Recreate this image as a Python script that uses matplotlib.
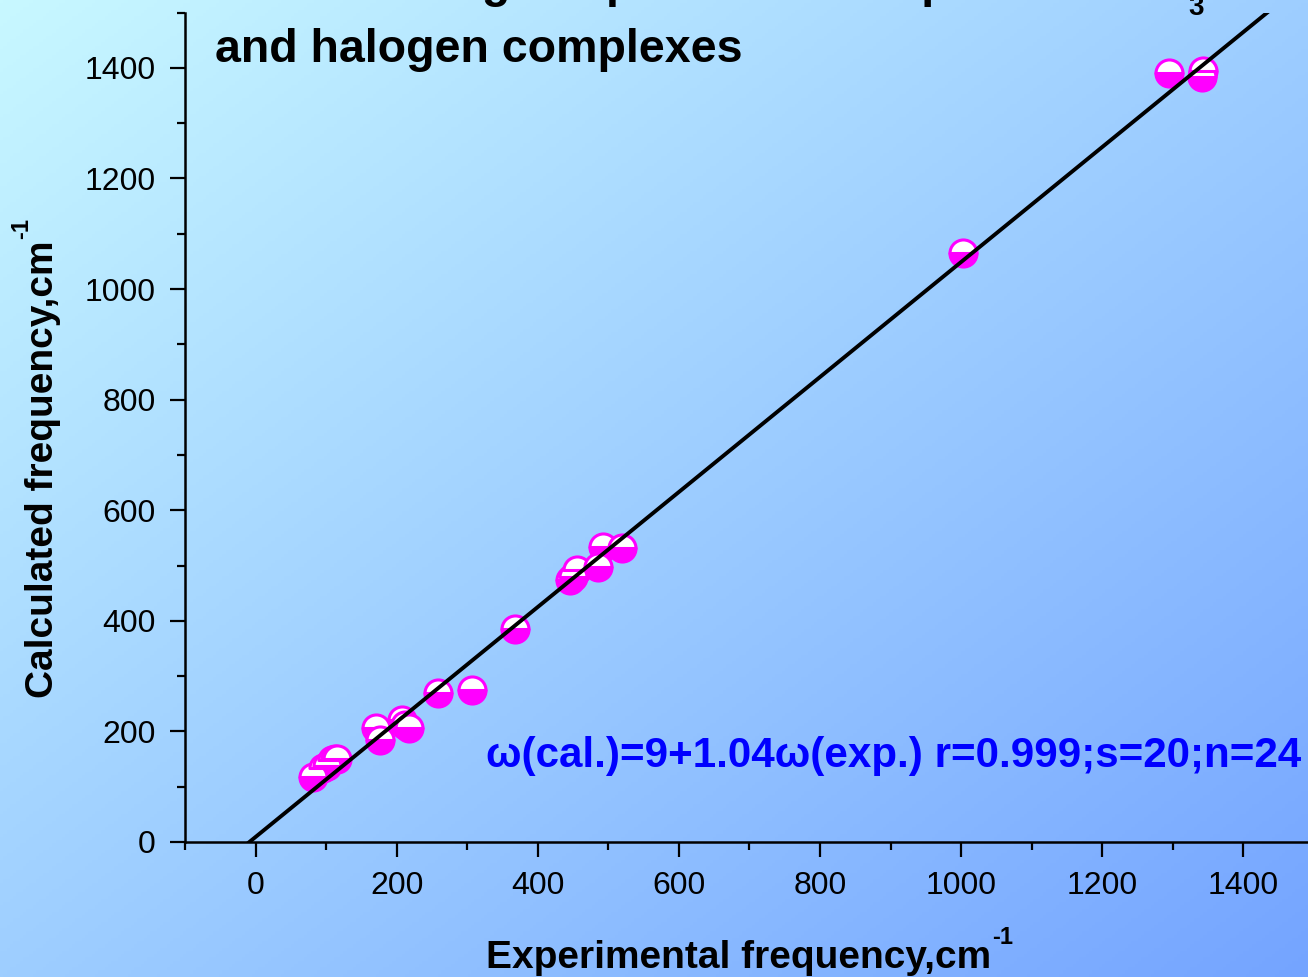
import numpy as np
import matplotlib.pyplot as plt

plt.rcParams['font.family'] = ['Liberation Sans', 'DejaVu Sans']

# experimental vs calculated vibrational frequencies, cm-1
x_exp = [82, 95, 101, 109, 113, 116,
         171, 177, 207, 212, 218,
         258, 307, 368,
         446, 450, 456, 486, 493, 520,
         1003,
         1295, 1341, 1343]
y_cal = [118, 134, 138, 148, 150, 150,
         207, 185, 220, 212, 206,
         269, 275, 385,
         474, 480, 492, 497, 534, 532,
         1065,
         1391, 1383, 1395]

# linear fit  w(cal.) = a + b*w(exp.)
fit_a = 9
fit_b = 1.04
fit_text = 'ω(cal.)=9+1.04ω(exp.) r=0.999;s=20;n=24'

xticks = [0, 200, 400, 600, 800, 1000, 1200, 1400]
yticks = [0, 200, 400, 600, 800, 1000, 1200, 1400]

fig = plt.figure(figsize=(13.08, 9.77), dpi=100)

# diagonal background gradient, light cyan -> blue
bg = fig.add_axes([0, 0, 1, 1])
gx, gy = np.meshgrid(np.linspace(0, 1, 400), np.linspace(0, 1, 300))
t = (gx + gy) / 2
c0 = np.array([0xC8, 0xF8, 0xFF]) / 255
c1 = np.array([0x74, 0xA4, 0xFF]) / 255
grad = c0 + t[..., None] * (c1 - c0)
bg.imshow(grad, aspect='auto', extent=[0, 1, 0, 1], origin='upper')
bg.set_axis_off()

ax = fig.add_axes([0.1414, 0.1382, 0.8632, 0.8489])
ax.patch.set_alpha(0)

ax.plot(x_exp, y_cal, 'o', ms=19.5, fillstyle='bottom',
        markerfacecolor='#ff00ff', markerfacecoloralt='white',
        markeredgecolor='#ff00ff', markeredgewidth=2.2, zorder=3)

xs = np.array([-100, 1500])
ax.plot(xs, fit_a + fit_b * xs, color='black', lw=2.8, zorder=4)

ax.set_xlim(-100, 1500)
ax.set_ylim(0, 1500)
ax.set_xticks(xticks)
ax.set_yticks(yticks)
ax.set_xticks(np.arange(-100, 1501, 200), minor=True)
ax.set_yticks(np.arange(100, 1501, 200), minor=True)

for s in ['top', 'right']:
    ax.spines[s].set_visible(False)
for s in ['left', 'bottom']:
    ax.spines[s].set_linewidth(1.8)

ax.tick_params(which='major', direction='out', length=11, width=1.6,
               labelsize=23, pad=10)
ax.tick_params(which='minor', direction='out', length=5.5, width=1.6)

xl = ax.set_xlabel('Experimental frequency,cm', fontsize=28, fontweight='bold')
ax.xaxis.set_label_coords(0.49, -0.118)
yl = ax.set_ylabel('Calculated frequency,cm', fontsize=28, fontweight='bold')
ax.yaxis.set_label_coords(-0.11, 0.45)

# small "-1" superscripts next to the axis labels
ax.annotate('-1', xy=(1, 1), xycoords=xl, xytext=(1, 2),
            textcoords='offset points', fontsize=17, fontweight='bold',
            ha='left', va='center')
ax.annotate('-1', xy=(0, 1), xycoords=yl, xytext=(-2, 1),
            textcoords='offset points', fontsize=17, fontweight='bold',
            rotation=90, ha='center', va='bottom')

ax.text(326, 136, fit_text, color='#0000ff', fontsize=30.3,
        fontweight='bold', ha='left', va='baseline')

# title, first line runs off the top of the figure
fig.text(262 / 1308, 1 + 3 / 977, 'Correlating the plot of all computed modes of BF',
         fontsize=33.5, fontweight='bold', ha='left', va='baseline')
fig.text(1188 / 1308, 1 - 15 / 977, '3', fontsize=20, fontweight='bold',
         ha='left', va='baseline')
fig.text(215 / 1308, 1 - 62 / 977, 'and halogen complexes',
         fontsize=33.5, fontweight='bold', ha='left', va='baseline')

fig.savefig('out.png', dpi=100)
